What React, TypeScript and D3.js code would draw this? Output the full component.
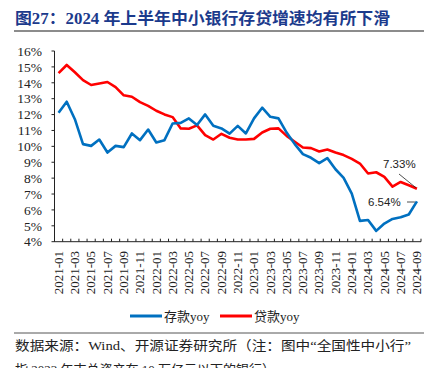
import React from "react";
import * as d3 from "d3";

const months: string[] = [];
for (let y = 2021; y <= 2024; y++) {
  for (let m = 1; m <= 12; m++) {
    if (y === 2024 && m > 9) break;
    months.push(`${y}-${String(m).padStart(2, "0")}`);
  }
}

const depositYoy = [
  12.11, 12.81, 11.71, 10.14, 10.03, 10.43, 9.61, 10.03, 9.95, 10.81, 10.39, 11.06,
  10.24, 10.39, 11.44, 11.48, 11.76, 11.34, 12.01, 11.29, 11.13, 10.8, 11.29, 10.81,
  11.76, 12.43, 11.86, 11.76, 10.87, 10.14, 9.51, 9.28, 8.94, 9.26, 8.56, 8.02,
  7.03, 5.31, 5.37, 4.68, 5.14, 5.43, 5.54, 5.71, 6.54,
];

const loanYoy = [
  14.61, 15.12, 14.66, 14.17, 13.86, 13.96, 14.05, 13.73, 13.21, 13.12, 12.78, 12.55,
  12.24, 12.01, 11.84, 11.13, 11.11, 11.32, 10.71, 10.43, 10.79, 10.54, 10.43, 10.43,
  10.47, 10.87, 11.11, 11.13, 10.66, 10.29, 9.93, 9.89, 9.68, 9.8, 9.61, 9.45,
  9.21, 8.92, 8.29, 8.37, 8.08, 7.47, 7.76, 7.55, 7.33,
];

const yTicks = [4, 5, 6, 7, 8, 9, 10, 11, 12, 13, 14, 15, 16];
const seriesNames = ["存款yoy", "贷款yoy"];
const title = "图27：2024 年上半年中小银行存贷增速均有所下滑";
const note1 = "数据来源：Wind、开源证券研究所（注：图中“全国性中小行”";
const note2 = "指 2023 年末总资产在 10 万亿元以下的银行）";

const BLUE = "#0070C0";
const RED = "#FF0000";
const SERIF = "'Liberation Serif', 'Times New Roman', 'Noto Sans CJK SC', serif";
const CJK = "'Liberation Serif', 'Noto Sans CJK SC', serif";

export default function App() {
  const W = 434, H = 368;
  const left = 54.5, right = 421, top = 51, bottom = 241.7;

  const x = d3.scaleBand<string>().domain(months).range([left, right]).paddingInner(0).paddingOuter(0);
  const xc = (m: string) => (x(m) as number) + x.bandwidth() / 2;
  const y = d3.scaleLinear().domain([4, 16]).range([bottom, top]);

  const line = d3
    .line<number>()
    .x((_, i) => xc(months[i]))
    .y((d) => y(d));

  const bandEdges = months.map((m) => x(m) as number).concat([right]);
  const last = months.length - 1;
  const lx = xc(months[last]);

  return (
    <svg width={W} height={H} style={{ position: "absolute", left: 0, top: 0, background: "#fff" }}>
      <text x={15} y={23.5} fontFamily={CJK} fontWeight="bold" fontSize={16} fill="#1b3a8c" textLength={375} lengthAdjust="spacingAndGlyphs">
        {title}
      </text>
      <line x1={14} x2={424} y1={31} y2={31} stroke="#8c8c8c" strokeWidth={2} />

      {/* y axis */}
      <line x1={left} x2={left} y1={top} y2={bottom} stroke="#222" strokeWidth={1} />
      {yTicks.map((t) => (
        <g key={t}>
          <line x1={left - 3} x2={left} y1={y(t)} y2={y(t)} stroke="#222" />
          <text x={42} y={y(t)} dy="0.35em" textAnchor="end" fontFamily={SERIF} fontSize={13.5} fill="#222">
            {t}%
          </text>
        </g>
      ))}

      {/* x axis */}
      <line x1={left} x2={right} y1={bottom} y2={bottom} stroke="#222" />
      {bandEdges.map((e, i) => (
        <line key={i} x1={e} x2={e} y1={bottom} y2={bottom - 3} stroke="#222" />
      ))}
      {months.map((m, i) =>
        i % 2 === 0 ? (
          <text
            key={m}
            transform={`translate(${xc(m)},251) rotate(-90)`}
            textAnchor="end"
            dy="0.33em"
            fontFamily={SERIF}
            fontSize={13}
            fill="#222"
          >
            {m}
          </text>
        ) : null
      )}

      <path d={line(loanYoy) || ""} fill="none" stroke={RED} strokeWidth={2.6} strokeLinejoin="round" />
      <path d={line(depositYoy) || ""} fill="none" stroke={BLUE} strokeWidth={2.6} strokeLinejoin="round" />

      {/* annotations */}
      <text x={383} y={168} fontFamily="'Liberation Sans', Arial, sans-serif" fontSize={11.5} fill="#222">
        {loanYoy[last].toFixed(2)}%
      </text>
      <line x1={399} y1={174} x2={lx - 1} y2={y(loanYoy[last]) - 1} stroke="#222" strokeWidth={0.8} />
      <text x={368} y={206} fontFamily="'Liberation Sans', Arial, sans-serif" fontSize={11.5} fill="#222">
        {depositYoy[last].toFixed(2)}%
      </text>
      <line x1={407} y1={202} x2={lx - 2} y2={202} stroke="#222" strokeWidth={0.8} />

      {/* legend */}
      <line x1={130} x2={162} y1={316} y2={316} stroke={BLUE} strokeWidth={3} />
      <text x={164} y={320.5} fontFamily={CJK} fontSize={13} fill="#222">{seriesNames[0]}</text>
      <line x1={220} x2={252} y1={316} y2={316} stroke={RED} strokeWidth={3} />
      <text x={254} y={320.5} fontFamily={CJK} fontSize={13} fill="#222">{seriesNames[1]}</text>

      <line x1={14} x2={424} y1={333} y2={333} stroke="#555" strokeWidth={1} />
      <text x={15} y={350} fontFamily={CJK} fontSize={13} fill="#222" textLength={396} lengthAdjust="spacingAndGlyphs">
        {note1}
      </text>
      <text x={15} y={374} fontFamily={CJK} fontSize={13} fill="#222">
        {note2}
      </text>
    </svg>
  );
}
